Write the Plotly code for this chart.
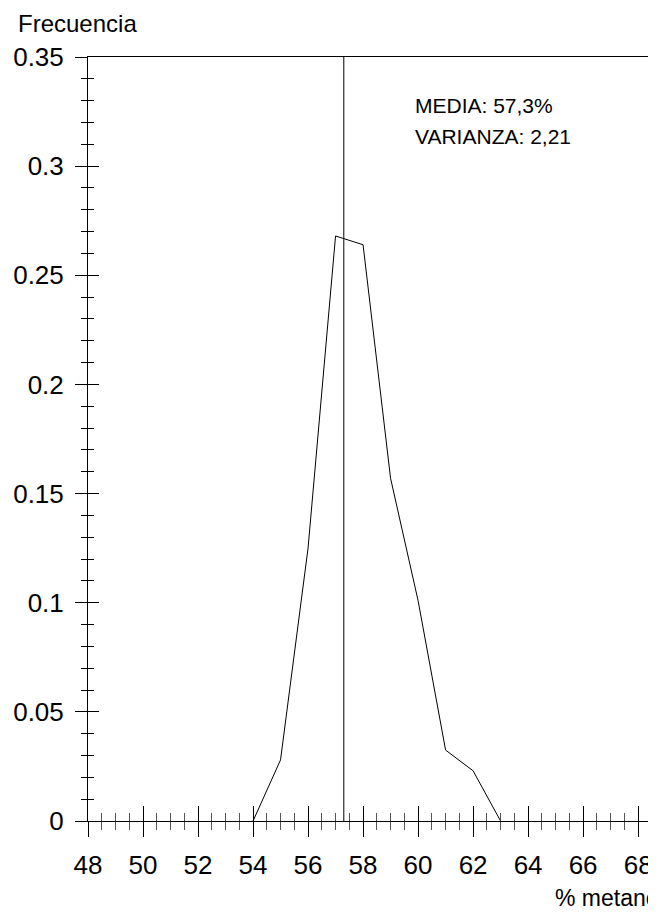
import plotly.graph_objects as go

# Data
metano = [54, 55, 56, 57, 58, 59, 60, 61, 62, 63]
frecuencia = [0.0, 0.028, 0.125, 0.268, 0.264, 0.157, 0.101, 0.0325, 0.023, 0.0]
media = 57.3
x_ticks = [48, 50, 52, 54, 56, 58, 60, 62, 64, 66, 68]
y_ticks = [0, 0.05, 0.1, 0.15, 0.2, 0.25, 0.3, 0.35]
y_tick_labels = ["0", "0.05", "0.1", "0.15", "0.2", "0.25", "0.3", "0.35"]
x_range = [48, 68.65]
y_range = [0, 0.35]

FONT = "Liberation Sans, Arial, sans-serif"

fig = go.Figure()
fig.add_trace(go.Scatter(x=metano, y=frecuencia, mode="lines",
                         line=dict(color="black", width=1), showlegend=False))
fig.add_trace(go.Scatter(x=[media, media], y=y_range, mode="lines",
                         line=dict(color="black", width=1), showlegend=False))

common_x = dict(range=x_range, tickvals=x_ticks, showgrid=False, zeroline=False,
                linecolor="black", linewidth=1, tickcolor="black", tickwidth=1)
common_y = dict(range=y_range, tickvals=y_ticks, showgrid=False, zeroline=False,
                linecolor="black", linewidth=1, tickcolor="black", tickwidth=1)

fig.update_layout(
    width=648, height=898,
    margin=dict(l=80, r=0, t=49, b=85),
    plot_bgcolor="white", paper_bgcolor="white",
    font=dict(family=FONT, color="black"),
    xaxis=dict(**common_x, showline=True, mirror=True, ticks="outside", ticklen=15,
               ticktext=[str(v) for v in x_ticks],
               tickfont=dict(size=26, family=FONT), ticklabelstandoff=6,
               minor=dict(dtick=0.5, ticks="outside", ticklen=8, tickcolor="#555", tickwidth=1)),
    xaxis2=dict(**common_x, overlaying="x", anchor="y", side="bottom", showline=False,
                ticks="inside", ticklen=15, showticklabels=False,
                minor=dict(dtick=0.5, ticks="inside", ticklen=8, tickcolor="#555", tickwidth=1)),
    yaxis=dict(**common_y, showline=True, ticks="outside", ticklen=12,
               ticktext=y_tick_labels, tickfont=dict(size=26, family=FONT),
               ticklabelstandoff=6,
               minor=dict(dtick=0.01, ticks="outside", ticklen=6, tickcolor="black", tickwidth=1)),
    yaxis2=dict(**common_y, overlaying="y", anchor="x", side="left", showline=False,
                ticks="inside", ticklen=11, showticklabels=False,
                minor=dict(dtick=0.01, ticks="inside", ticklen=6, tickcolor="black", tickwidth=1)),
)
# invisible trace so the overlay axes are drawn
fig.add_trace(go.Scatter(x=[48], y=[0], xaxis="x2", yaxis="y2", mode="markers",
                         marker=dict(opacity=0), showlegend=False, hoverinfo="skip"))

fig.add_annotation(text="Frecuencia", xref="paper", yref="paper",
                   x=(8 - 80) / 568, y=1 + (49 - 15) / 764, xanchor="left", yanchor="middle",
                   showarrow=False, font=dict(size=24, family=FONT))
fig.add_annotation(text="% metano", xref="x", yref="paper",
                   x=64.9, y=-(898 - 821) / 764, xanchor="left", yanchor="middle",
                   showarrow=False, font=dict(size=23, family=FONT))
fig.add_annotation(text="MEDIA: 57,3%", xref="x", yref="y",
                   x=59.82, y=0.3278, xanchor="left", yanchor="middle",
                   showarrow=False, font=dict(size=21, family=FONT))
fig.add_annotation(text="VARIANZA: 2,21", xref="x", yref="y",
                   x=59.82, y=0.3136, xanchor="left", yanchor="middle",
                   showarrow=False, font=dict(size=21, family=FONT))

fig.write_html("out.html")
